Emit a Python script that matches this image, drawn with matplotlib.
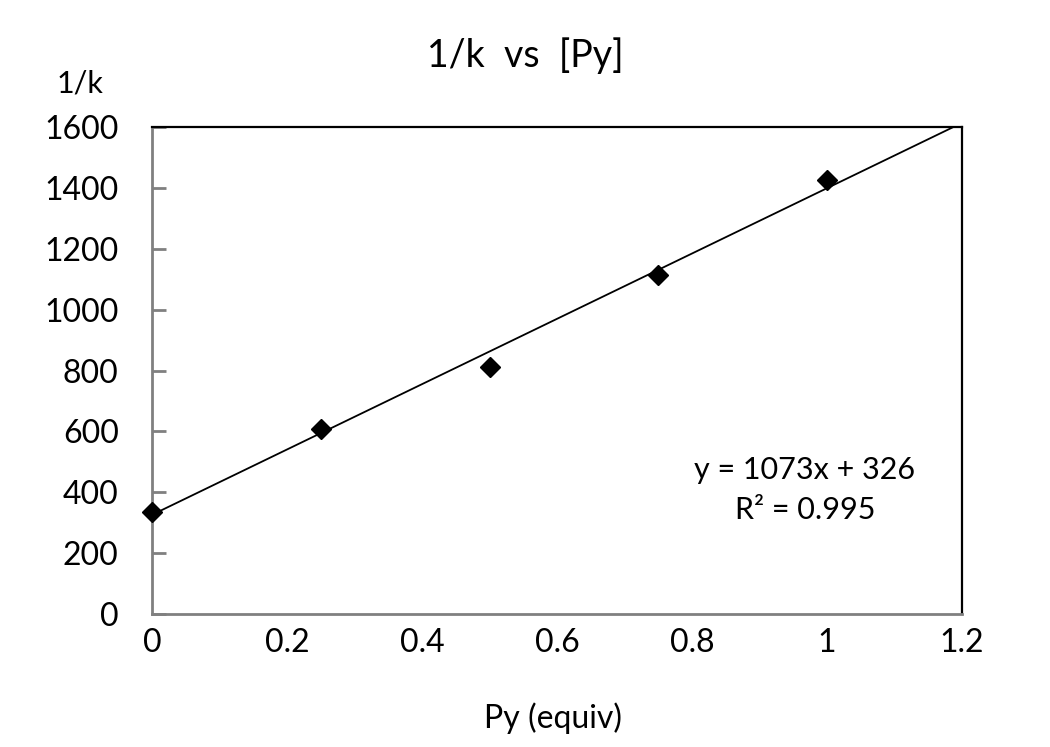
import matplotlib
matplotlib.use("Agg")
import matplotlib.pyplot as plt
import numpy as np

# data
py_equiv = [0, 0.25, 0.5, 0.75, 1.0]
inv_k = [335, 608, 812, 1113, 1427]

# trendline from the chart label
slope = 1073
intercept = 326
r_squared = 0.995
fit_x = [0, 1.2]

x_ticks = [0, 0.2, 0.4, 0.6, 0.8, 1, 1.2]
x_tick_labels = ["0", "0.2", "0.4", "0.6", "0.8", "1", "1.2"]
y_ticks = [0, 200, 400, 600, 800, 1000, 1200, 1400, 1600]

plt.rcParams["font.family"] = ["Lato", "DejaVu Sans"]

fig = plt.figure(figsize=(10.5, 7.47), dpi=100)
ax = fig.add_axes([0.1448, 0.178, 0.7714, 0.652])

fit_y = [slope * x + intercept for x in fit_x]
ax.plot(fit_x, fit_y, color="black", lw=1.3, zorder=2)
ax.plot(py_equiv, inv_k, linestyle="none", marker="D", ms=10,
        color="black", zorder=3, clip_on=False)

ax.set_xlim(0, 1.2)
ax.set_ylim(0, 1600)
ax.set_xticks(x_ticks)
ax.set_xticklabels(x_tick_labels)
ax.set_yticks(y_ticks)
ax.tick_params(axis="x", length=0, pad=10, labelsize=23)
ax.tick_params(axis="y", direction="in", length=10, width=2, color="#808080",
               pad=24, labelsize=23)

for side in ("left", "bottom"):
    ax.spines[side].set_color("#808080")
    ax.spines[side].set_linewidth(2)
for side in ("top", "right"):
    ax.spines[side].set_color("black")
    ax.spines[side].set_linewidth(1.6)

fig.text(0.527, 0.039, "Py (equiv)", ha="center", va="center", fontsize=23)
fig.text(0.5, 0.926, "1/k  vs  [Py]", ha="center", va="center", fontsize=27)
fig.text(0.076, 0.8876, "1/k", ha="center", va="center", fontsize=22)

ax.text(0.806, 0.296, f"y = {slope}x + {intercept}", transform=ax.transAxes,
        ha="center", va="center", fontsize=22)
ax.text(0.806, 0.2136, f"R² = {r_squared}", transform=ax.transAxes,
        ha="center", va="center", fontsize=22)

fig.savefig("out.png", dpi=100)
plt.close(fig)
